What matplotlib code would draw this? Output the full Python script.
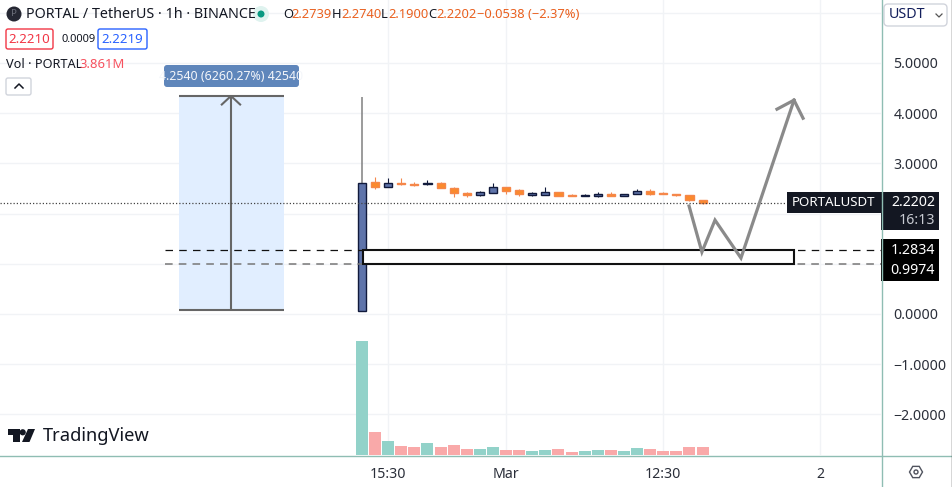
import matplotlib
matplotlib.use("Agg")
import matplotlib.pyplot as plt
from matplotlib.patches import Rectangle, FancyBboxPatch, Polygon, Circle, RegularPolygon

plt.rcParams['font.family'] = ['Noto Sans', 'DejaVu Sans']

# ---------- data ----------
opens  = [0.06,2.62,2.52,2.61,2.59,2.58,2.60,2.51,2.42,2.38,2.42,2.52,2.47,2.38,2.38,2.44,2.38,2.36,2.35,2.40,2.36,2.39,2.46,2.41,2.40,2.38,2.2739]
highs  = [4.32,2.72,2.70,2.70,2.63,2.67,2.62,2.53,2.44,2.46,2.60,2.52,2.49,2.43,2.52,2.44,2.40,2.40,2.44,2.44,2.40,2.49,2.49,2.44,2.40,2.38,2.274]
lows   = [0.06,2.49,2.52,2.56,2.54,2.56,2.50,2.34,2.34,2.36,2.42,2.40,2.36,2.35,2.38,2.36,2.36,2.36,2.33,2.36,2.36,2.39,2.37,2.39,2.36,2.25,2.19]
closes = [2.61,2.52,2.60,2.58,2.57,2.60,2.50,2.41,2.38,2.44,2.52,2.46,2.40,2.41,2.44,2.36,2.36,2.37,2.40,2.36,2.40,2.46,2.39,2.39,2.38,2.27,2.2202]
volumes = [57.0,11.5,7.0,4.67,3.83,6.17,4.17,5.17,3.0,3.0,3.83,2.67,2.67,2.0,2.5,3.0,1.67,2.0,2.5,2.5,2.0,3.33,3.0,2.17,2.17,4.17,3.861]

price_ticks = [6,5,4,3,2,1,0,-1,-2]
price_labels = ['','5.0000','4.0000','3.0000','','','0.0000','\u22121.0000','\u22122.0000']
time_ticks = [2,11,23,35]
time_labels = ['15:30','Mar','12:30','2']

last_price = 2.2202
zone_top, zone_bottom = 1.2834, 0.9974
zone_start, zone_end = 0.05, 32.95
measure_left, measure_right, measure_mid = -13.97, -5.95, -10.0
measure_top, measure_bottom = 4.343, 0.08
path_x = [24.97,25.95,26.95,28.93,32.98]
path_y = [2.15,1.235,1.87,1.115,4.26]
head_x = [31.68,32.98,33.67]
head_y = [4.08,4.26,3.90]

# ---------- colours ----------
UP, UP_EDGE = '#5f74aa', '#111a3c'
DOWN, DOWN_EDGE = '#fb8a2c', '#f5874a'
GRID = '#f1f3f6'
AXIS = '#8fbdb3'
DARK = '#131722'
ORANGE = '#e9601f'

W, H = 952, 487
fig = plt.figure(figsize=(W/100, H/100), dpi=100, facecolor='white')
pos = [0, (H-455)/H, 881/W, 455/H]
ax = fig.add_axes(pos, zorder=1)
ax.set_xlim(-27.63, 39.62)
ax.set_ylim(-2.809, 6.255)
for s in ax.spines.values():
    s.set_visible(False)
ax.yaxis.tick_right()
ax.set_yticks(price_ticks, price_labels)
ax.set_xticks(time_ticks, time_labels)
ax.tick_params(length=0, colors='#2a2e39', labelsize=10.2)
ax.tick_params(axis='y', pad=9)
ax.tick_params(axis='x', pad=9)
ax.grid(True, color=GRID, lw=1)
ax.set_axisbelow(True)
for lbl in ax.get_xticklabels():
    if lbl.get_text() == 'Mar':
        lbl.set_fontweight('bold')

# measure tool
ax.add_patch(Rectangle((measure_left, measure_bottom), measure_right-measure_left,
                       measure_top-measure_bottom, fc='#e1eeff', ec='none', zorder=2))
ax.hlines([measure_top, measure_bottom], measure_left, measure_right, color='#666666', lw=1.5, zorder=3)
ax.vlines(measure_mid, measure_bottom, measure_top, color='#666666', lw=1.5, zorder=3)
ax.plot([measure_mid-0.7, measure_mid, measure_mid+0.7], [measure_top-0.17, measure_top, measure_top-0.17],
        color='#666666', lw=1.5, zorder=3)

# candles
for i, (o, h, l, c) in enumerate(zip(opens, highs, lows, closes)):
    up = c >= o
    wick = '#808080' if i == 0 else (UP_EDGE if up else DOWN_EDGE)
    ax.vlines(i, l, h, color=wick, lw=1.1 if i == 0 else 0.8, zorder=4)
    ax.bar(i, abs(c-o), bottom=min(o, c), width=0.62,
           color=UP if up else DOWN, edgecolor=UP_EDGE if up else DOWN_EDGE, lw=1.0, zorder=5)

# levels
ax.plot([-15.04, 39.62], [zone_top]*2, color='#111111', lw=0.9, dashes=(6, 5), zorder=6)
ax.plot([-15.04, 39.62], [zone_bottom]*2, color='#777777', lw=1.1, dashes=(5, 4), zorder=6)
ax.add_patch(Rectangle((zone_start, zone_bottom), zone_end-zone_start, zone_top-zone_bottom,
                       fc='white', ec='#111111', lw=1.5, zorder=7))
ax.plot([-27.63, 32.5], [last_price]*2, color='#444444', lw=0.9, dashes=(1, 1.6), zorder=8)

# projected path
ax.plot(path_x, path_y, color='#8a8a8a', lw=2.3, solid_joinstyle='miter', zorder=9)
ax.plot(head_x, head_y, color='#8a8a8a', lw=2.3, solid_joinstyle='miter', zorder=9)

# volume
vol = fig.add_axes(pos, zorder=2)
vol.patch.set_alpha(0)
vol.set_xlim(ax.get_xlim())
vol.set_ylim(0, 227.5)
vol.axis('off')
vol.bar(range(len(volumes)), volumes, width=0.92,
        color=['#92d2c9' if c >= o else '#f9a9a9' for o, c in zip(opens, closes)])

# ---------- chart furniture, in pixel coordinates ----------
ov = fig.add_axes([0, 0, 1, 1], zorder=3)
ov.patch.set_alpha(0)
ov.set_xlim(0, W)
ov.set_ylim(H, 0)
ov.axis('off')

ov.plot([0, W], [455.5, 455.5], color=AXIS, lw=1)
ov.plot([881.5, 881.5], [0, H], color=AXIS, lw=1)
ov.plot([951.5, 951.5], [0, H], color='#333333', lw=1)

def label(x, y, s, color=DARK, size=10, ha='left', weight='normal'):
    return ov.text(x, y, s, color=color, fontsize=size, ha=ha, va='center', fontweight=weight)

def rbox(x0, y0, x1, y1, fc, ec='none', r=2, lw=1.0):
    ov.add_patch(FancyBboxPatch((x0+r, y0+r), x1-x0-2*r, y1-y0-2*r,
                                boxstyle=f'round,pad={r},rounding_size={r}', fc=fc, ec=ec, lw=lw))

# header
ov.add_patch(Circle((14, 14), 7.5, fc='#252733', ec='none'))
label(14, 14, 'P', color='#6b6e7a', size=7, ha='center')
label(26, 15, 'PORTAL / TetherUS \u00b7 1h \u00b7 BINANCE', size=10.3)
ov.add_patch(Circle((261, 14), 8, fc='#dff3ef', ec='none'))
ov.add_patch(Circle((261, 14), 3.5, fc='#089981', ec='none'))
for x, s, c in [(283, 'O', DARK), (291, '2.2739', ORANGE), (332, 'H', DARK), (341, '2.2740', ORANGE),
                (381, 'L', DARK), (388, '2.1900', ORANGE), (428, 'C', DARK), (436, '2.2202', ORANGE),
                (477, '\u22120.0538 (\u22122.37%)', ORANGE)]:
    label(x, 14, s, color=c, size=9.3)

rbox(6, 29, 53, 49, 'white', ec='#f23645')
label(29.5, 39.5, '2.2210', color='#f23645', size=9.6, ha='center')
label(61, 40, '0.0009', size=8)
rbox(98, 29, 147, 49, 'white', ec='#2962ff')
label(122.5, 39.5, '2.2219', color='#2962ff', size=9.6, ha='center')
label(6, 65, 'Vol \u00b7 PORTAL', size=9.2)
label(79, 65, '3.861M', color='#f7525f', size=9.4)
rbox(6, 78, 31, 95, 'white', ec='#d1d4dc')
ov.plot([15, 19, 23], [88, 84, 88], color=DARK, lw=1.1)

# measure label
rbox(164, 65, 299, 87, '#5f86bb', r=3)
label(231.5, 76, '4.2540 (6260.27%) 42540', color='#f4f6fa', size=8.9, ha='center')

# price scale
rbox(884, 4, 947, 26, 'white', ec='#d1d4dc', r=4)
label(889, 15, 'USDT', color='#131f5c', size=10.3)
ov.plot([936, 939, 942], [14, 17, 14], color='#555555', lw=0.9)
ov.add_patch(Rectangle((787, 192), 94, 21, fc='#131722', ec='none'))
ov.add_patch(Rectangle((881, 192), 58, 38, fc='#131722', ec='none'))
ov.add_patch(Rectangle((881, 239), 58, 42, fc='#000000', ec='none'))
label(792, 203, 'PORTALUSDT', color='white', size=9.6, weight='bold')
label(935, 203, '2.2202', color='white', size=10.2, ha='right', weight='bold')
label(935, 221, '16:13', color='#c8cbd2', size=10.2, ha='right')
label(935, 250, '1.2834', color='white', size=10.2, ha='right', weight='bold')
label(935, 270, '0.9974', color='white', size=10.2, ha='right', weight='bold')

# gear
ov.add_patch(RegularPolygon((916, 472), 6, radius=6.5, orientation=1.5708/3, fc='none', ec='#50535e', lw=1))
ov.add_patch(Circle((916, 472), 2, fc='none', ec='#50535e', lw=1))

# logo
ov.add_patch(Polygon([(8, 429), (19.5, 429), (19.5, 442), (13, 442), (13, 435), (8, 435)], fc=DARK, ec='none'))
ov.add_patch(Circle((22.7, 432.3), 3.1, fc=DARK, ec='none'))
ov.add_patch(Polygon([(28, 429), (35, 429), (29.5, 442), (22, 442)], fc=DARK, ec='none'))
label(43, 436, 'TradingView', size=13.2, weight='semibold')

fig.savefig('out.png', dpi=100, facecolor='white')
